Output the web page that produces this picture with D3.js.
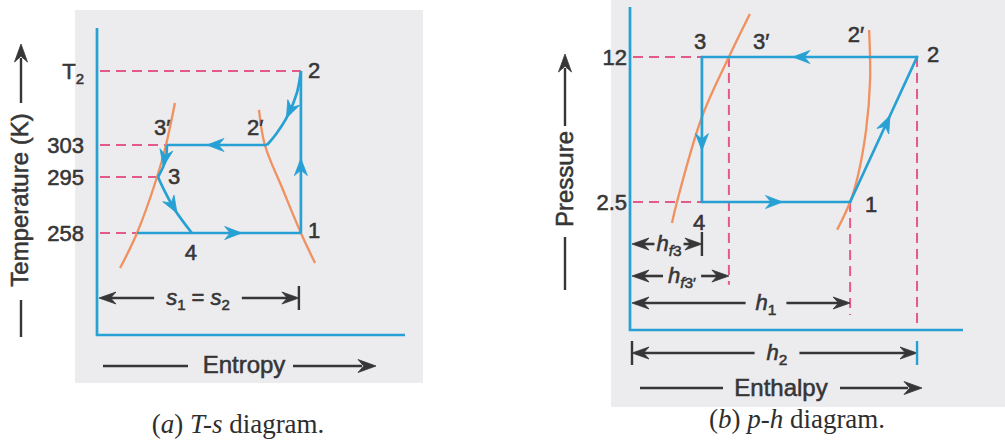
<!DOCTYPE html>
<html>
<head>
<meta charset="utf-8">
<script src="https://cdn.jsdelivr.net/npm/d3@7"></script>
<style>
  body { margin: 0; background: #ffffff; }
  svg { display: block; }
  text { font-family: "Liberation Sans", Arial, sans-serif; fill: #363636; stroke: #363636; stroke-width: 0.55px; }
  .serif { font-family: "Liberation Serif", "Times New Roman", serif; stroke: none; fill: #2e2e2e; }
</style>
</head>
<body>
<script>
// ---------- T-s diagram: vapour compression cycle ----------
const tsTickTemps  = [258, 295, 303, 330];
const tsTickLabels = ["258", "295", "303", "T"];
const tsTickSubs   = ["", "", "", "2"];

const tsStateNames = ["1", "2", "2′", "3′", "3", "4"];
const tsStateS     = [66.2, 66.2, 55.2, 22.7, 19.8, 30.8];
const tsStateT     = [258, 330, 303, 303, 295, 258];

// process paths (entropy, temperature)
const tsEvapS   = [13.0, 66.2];                 const tsEvapT   = [258, 258];
const tsCompS   = [66.2, 66.2];                 const tsCompT   = [258, 330];
const tsDesupS  = [66.2, 64.9, 62.0, 58.4, 55.2]; const tsDesupT = [330, 322.0, 313.9, 307.4, 303];
const tsCondS   = [55.2, 22.7];                 const tsCondT   = [303, 303];
const tsSubS    = [22.7, 22.2, 19.8];           const tsSubT    = [303, 299, 295];
const tsThrotS  = [19.8, 22.1, 25.3, 30.8];     const tsThrotT  = [295, 285.1, 273.2, 258];

// saturation lines
const tsLiqS = [7.5, 13.0, 19.5, 22.4, 25.3];   const tsLiqT = [238.1, 258, 295, 303, 318.3];
const tsVapS = [52.6, 54.5, 60.4, 66.2, 70.8];  const tsVapT = [315.8, 303, 286.4, 258, 240.9];

// ---------- p-h diagram ----------
const phTickP      = [2.5, 12];
const phTickLabels = ["2.5", "12"];

const phStateNames = ["1", "2", "2′", "3", "3′", "4"];
const phStateH     = [66.1, 86.2, 72.0, 21.6, 29.7, 21.6];
const phStateP     = [2.5, 12, 12, 12, 12, 2.5];

const phLiqH = [12.6, 14.1, 21.6, 29.7, 36.0];  const phLiqP = [1.99, 2.5, 6.27, 12, 19.1];
const phVapH = [71.8, 72.1, 70.9, 68.5, 66.1, 62.2]; const phVapP = [16.07, 9.36, 5.45, 3.35, 2.5, 1.85];

// ---------- styling ----------
const BLUE = "#27a1d3", ORANGE = "#f0915f", PINK = "#e35a86", INK = "#363636";
const W = 1005, H = 447;

const svg = d3.select("body").append("svg").attr("width", W).attr("height", H);

// paper panels
svg.append("rect").attr("x", 75).attr("y", 10).attr("width", 348).attr("height", 373).attr("fill", "#ecebee");
svg.append("rect").attr("x", 611).attr("y", 0).attr("width", 394).attr("height", 407).attr("fill", "#ecebee");

// ---------- helpers ----------
function headPath(len, wid) {
  return `M0,0L${-len},${-wid / 2}L${-len * 0.68},0L${-len},${wid / 2}Z`;
}
function drawHead(g, x, y, ang, len, wid, color) {
  g.append("path").attr("d", headPath(len, wid)).attr("fill", color)
    .attr("stroke", color).attr("stroke-width", 0.8).attr("stroke-linejoin", "round")
    .attr("transform", `translate(${x},${y}) rotate(${ang * 180 / Math.PI})`);
}
function midArrow(g, node, frac, color) {
  const L = node.getTotalLength();
  const a = node.getPointAtLength(Math.max(0, L * frac - 2));
  const b = node.getPointAtLength(Math.min(L, L * frac + 2));
  const ang = Math.atan2(b.y - a.y, b.x - a.x);
  const tip = node.getPointAtLength(Math.min(L, L * frac + 8));
  drawHead(g, tip.x, tip.y, ang, 17, 13, color);
}
function seg(g, x1, y1, x2, y2, color, w, dash) {
  const l = g.append("line").attr("x1", x1).attr("y1", y1).attr("x2", x2).attr("y2", y2)
    .attr("stroke", color).attr("stroke-width", w);
  if (dash) l.attr("stroke-dasharray", dash);
  return l;
}
function dimension(g, x1, x2, y, cx, build, opt = {}) {
  const t = g.append("text").attr("x", cx).attr("y", y + 7).attr("text-anchor", "middle")
    .attr("font-size", 22);
  build(t);
  const bb = t.node().getBBox();
  const gap = opt.gap ?? 7;
  seg(g, x1 + 4, y, bb.x - gap, y, INK, 2.6);
  seg(g, bb.x + bb.width + gap, y, x2 - 4, y, INK, 2.6);
  drawHead(g, x1, y, Math.PI, 17, 12, INK);
  drawHead(g, x2, y, 0, 17, 12, INK);
  if (opt.barLeft) seg(g, x1, y - 12, x1, y + 12, opt.barLeftColor || INK, 2.4);
  if (opt.barRight) seg(g, x2, y - 12, x2, y + 12, opt.barRightColor || INK, 2.4);
}
function sub(t, main, subs) {
  t.append("tspan").text(main);
  subs.forEach(s => {
    t.append("tspan").attr("font-size", "0.68em").attr("dy", s.dy).text(s.text);
  });
}

// =====================================================================
// T-s diagram
// =====================================================================
const gA = svg.append("g");
const sx = d3.scaleLinear().domain([0, 100]).range([97, 405]);
const ty = d3.scaleLinear().domain([200, 258, 295, 303, 330, 345]).range([335, 233, 177, 145, 71, 28]);
const tsLine = d3.line().x(d => sx(d[0])).y(d => ty(d[1])).curve(d3.curveCatmullRom.alpha(0.5));

// guide lines from the temperature axis
const tsGuideEnd = [13.0, 19.8, 22.7, 66.2];
tsTickTemps.forEach((T, i) => {
  seg(gA, sx(0) + 3, ty(T), sx(tsGuideEnd[i]), ty(T), PINK, 2, "10,6");
});

// saturation lines
gA.append("path").attr("d", tsLine(d3.zip(tsLiqS, tsLiqT))).attr("fill", "none").attr("stroke", ORANGE).attr("stroke-width", 2.3);
gA.append("path").attr("d", tsLine(d3.zip(tsVapS, tsVapT))).attr("fill", "none").attr("stroke", ORANGE).attr("stroke-width", 2.3);

// cycle processes with direction arrows
const tsProcs = [
  [tsEvapS, tsEvapT, 0.59],
  [tsCompS, tsCompT, 0.41],
  [tsDesupS, tsDesupT, 0.5],
  [tsCondS, tsCondT, 0.52],
  [tsSubS, tsSubT, 0.42],
  [tsThrotS, tsThrotT, 0.5]
];
tsProcs.forEach(([S, T, f]) => {
  const p = gA.append("path").attr("d", tsLine(d3.zip(S, T))).attr("fill", "none")
    .attr("stroke", BLUE).attr("stroke-width", 2.7).attr("stroke-linejoin", "round");
  midArrow(gA, p.node(), f, BLUE);
});

// axes frame
gA.append("path").attr("d", `M${sx(0)},${ty(345)}V${ty(200)}H${sx(100)}`)
  .attr("fill", "none").attr("stroke", BLUE).attr("stroke-width", 2.7);

// temperature tick labels
tsTickTemps.forEach((T, i) => {
  const t = gA.append("text").attr("x", 84).attr("y", ty(T) + 8).attr("text-anchor", "end").attr("font-size", 22);
  if (tsTickSubs[i]) sub(t, tsTickLabels[i], [{ text: tsTickSubs[i], dy: "0.35em" }]);
  else t.text(tsTickLabels[i]);
});

// state labels
const tsLabelOff = { "1": [7, 5], "2": [7, 7], "2′": [-20, -10], "3′": [-13, -10], "3": [10, 7], "4": [-7, 27] };
tsStateNames.forEach((n, i) => {
  gA.append("text").attr("x", sx(tsStateS[i]) + tsLabelOff[n][0]).attr("y", ty(tsStateT[i]) + tsLabelOff[n][1])
    .attr("font-size", 22).text(n);
});

// s1 = s2 dimension
dimension(gA, sx(0) + 2, sx(tsStateS[0]) - 2, 298, 198, t => {
  t.append("tspan").attr("font-style", "italic").text("s");
  t.append("tspan").attr("font-size", "0.68em").attr("dy", "0.35em").text("1");
  t.append("tspan").attr("dy", "-0.24em").text(" = ");
  t.append("tspan").attr("font-style", "italic").text("s");
  t.append("tspan").attr("font-size", "0.68em").attr("dy", "0.35em").text("2");
}, { barRight: true, gap: 12 });

// axis titles
seg(gA, 21, 337, 21, 300, INK, 2.4);
gA.append("text").attr("transform", "translate(28,200) rotate(-90)").attr("text-anchor", "middle")
  .attr("font-size", 24).text("Temperature (K)");
seg(gA, 21, 103, 21, 58, INK, 2.4);
drawHead(gA, 21, 44, -Math.PI / 2, 18, 13, INK);

seg(gA, 103, 366, 188, 366, INK, 2.4);
gA.append("text").attr("x", 244).attr("y", 373).attr("text-anchor", "middle").attr("font-size", 24).text("Entropy");
seg(gA, 293, 366, 362, 366, INK, 2.4);
drawHead(gA, 376, 366, 0, 18, 13, INK);

// caption
const capA = gA.append("text").attr("class", "serif").attr("x", 238).attr("y", 433)
  .attr("text-anchor", "middle").attr("font-size", 27);
capA.append("tspan").text("(");
capA.append("tspan").attr("font-style", "italic").text("a");
capA.append("tspan").text(") ");
capA.append("tspan").attr("font-style", "italic").text("T-s");
capA.append("tspan").text(" diagram.");

// =====================================================================
// p-h diagram
// =====================================================================
const gB = svg.append("g");
const hx = d3.scaleLinear().domain([0, 100]).range([630, 963]);
const py = d3.scaleLog().domain([2.5, 12]).range([202, 57]);
const pAxisMin = 0.626, pAxisMax = 20.6;
const phLine = d3.line().x(d => hx(d[0])).y(d => py(d[1])).curve(d3.curveCatmullRom.alpha(0.5));
const phLinear = d3.line().x(d => hx(d[0])).y(d => py(d[1]));

// guide lines
phTickP.forEach(p => seg(gB, hx(0) + 3, py(p), hx(phStateH[3]), py(p), PINK, 2, "10,6"));
// verticals down from 3', 1 and 2
const phDropTo = [1.02, 0.736, pAxisMin];
[phStateH[4], phStateH[0], phStateH[1]].forEach((h, i) => {
  const pTop = [phStateP[4], phStateP[0], phStateP[1]][i];
  seg(gB, hx(h), py(pTop), hx(h), py(phDropTo[i]), PINK, 2, "10,6");
});

// saturation lines
gB.append("path").attr("d", phLine(d3.zip(phLiqH, phLiqP))).attr("fill", "none").attr("stroke", ORANGE).attr("stroke-width", 2.3);
gB.append("path").attr("d", phLine(d3.zip(phVapH, phVapP))).attr("fill", "none").attr("stroke", ORANGE).attr("stroke-width", 2.3);

// cycle 1 -> 2 -> 3 -> 4 -> 1
const phOrder = [[0, 1, 0.545], [1, 3, 0.54], [3, 5, 0.59], [5, 0, 0.49]];
phOrder.forEach(([a, b, f]) => {
  const p = gB.append("path").attr("d", phLinear([[phStateH[a], phStateP[a]], [phStateH[b], phStateP[b]]]))
    .attr("fill", "none").attr("stroke", BLUE).attr("stroke-width", 2.7).attr("stroke-linecap", "round");
  midArrow(gB, p.node(), f, BLUE);
});

// axes frame
gB.append("path").attr("d", `M${hx(0)},${py(pAxisMax)}V${py(pAxisMin)}H${hx(100)}`)
  .attr("fill", "none").attr("stroke", BLUE).attr("stroke-width", 2.7);

// pressure tick labels
phTickP.forEach((p, i) => {
  gB.append("text").attr("x", 627).attr("y", py(p) + 8).attr("text-anchor", "end").attr("font-size", 22).text(phTickLabels[i]);
});

// state labels
const phLabelOff = { "1": [15, 10], "2": [10, 5], "2′": [-22, -15], "3": [-8, -8], "3′": [24, -8], "4": [-9, 28] };
phStateNames.forEach((n, i) => {
  gB.append("text").attr("x", hx(phStateH[i]) + phLabelOff[n][0]).attr("y", py(phStateP[i]) + phLabelOff[n][1])
    .attr("font-size", 22).text(n);
});

// enthalpy dimensions
dimension(gB, hx(0) + 2, hx(phStateH[3]), 244, 669, t => {
  t.append("tspan").attr("font-style", "italic").text("h");
  t.append("tspan").attr("font-size", "0.7em").attr("dy", "0.35em").attr("font-style", "italic").text("f");
  t.append("tspan").attr("font-size", "0.7em").text("3");
}, { barRight: true, gap: 2 });
dimension(gB, hx(0) + 2, hx(phStateH[4]), 276, 682, t => {
  t.append("tspan").attr("font-style", "italic").text("h");
  t.append("tspan").attr("font-size", "0.7em").attr("dy", "0.35em").attr("font-style", "italic").text("f");
  t.append("tspan").attr("font-size", "0.7em").text("3′");
}, { gap: 5 });
dimension(gB, hx(0) + 2, hx(phStateH[0]), 303, 766, t => {
  t.append("tspan").attr("font-style", "italic").text("h");
  t.append("tspan").attr("font-size", "0.7em").attr("dy", "0.35em").text("1");
}, { gap: 10 });
dimension(gB, hx(0) + 2, hx(phStateH[1]), 353, 777, t => {
  t.append("tspan").attr("font-style", "italic").text("h");
  t.append("tspan").attr("font-size", "0.7em").attr("dy", "0.35em").text("2");
}, { barLeft: true, barRight: true, barRightColor: BLUE, gap: 12 });

// axis titles
seg(gB, 565, 290, 565, 237, INK, 2.4);
gB.append("text").attr("transform", "translate(573,179) rotate(-90)").attr("text-anchor", "middle")
  .attr("font-size", 24).text("Pressure");
seg(gB, 565, 126, 565, 68, INK, 2.4);
drawHead(gB, 565, 54, -Math.PI / 2, 18, 13, INK);

seg(gB, 640, 388, 723, 388, INK, 2.4);
gB.append("text").attr("x", 781).attr("y", 396).attr("text-anchor", "middle").attr("font-size", 24).text("Enthalpy");
seg(gB, 840, 388, 908, 388, INK, 2.4);
drawHead(gB, 922, 388, 0, 18, 13, INK);

// caption
const capB = gB.append("text").attr("class", "serif").attr("x", 797).attr("y", 428)
  .attr("text-anchor", "middle").attr("font-size", 27);
capB.append("tspan").text("(");
capB.append("tspan").attr("font-style", "italic").text("b");
capB.append("tspan").text(") ");
capB.append("tspan").attr("font-style", "italic").text("p-h");
capB.append("tspan").text(" diagram.");
</script>
</body>
</html>
